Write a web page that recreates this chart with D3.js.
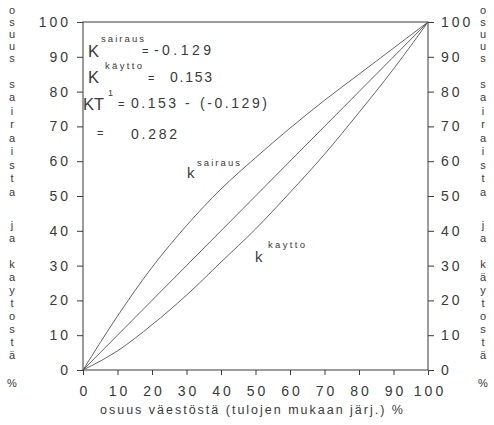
<!DOCTYPE html>
<html><head><meta charset="utf-8">
<script src="https://cdn.jsdelivr.net/npm/d3@7"></script>
<style>
body{margin:0;background:#fff}
svg{display:block}
text{font-family:"Liberation Sans",Arial,sans-serif;fill:#3a3a3a}
</style>
</head><body>
<svg id="c" width="494" height="425"></svg>
<script>
// ---- data ----
const xTicks = [0,10,20,30,40,50,60,70,80,90,100];
const yTicks = [0,10,20,30,40,50,60,70,80,90,100];
const popShare     = [0,10,20,30,40,50,60,70,80,90,100];
const equalShare   = [0,10,20,30,40,50,60,70,80,90,100];
const sairausShare = [0,15.5,29.5,41.5,52,61,69.5,77.5,85,92.5,100];
const kayttoShare  = [0,5.5,13,21.5,31,40.5,51,62,74,86.5,100];
const leftTitle  = ["osuus","sairaista","ja","kaytostä","%"];
const rightTitle = ["osuus","sairaista","ja","käytostä","%"];
const xTitle = "osuus väestöstä (tulojen mukaan järj.) %";
const kSairausSup = "sairaus", kKayttoSup = "käytto", kKayttoLabelSup = "kaytto";
const kSairausVal = "-0.129", kKayttoVal = "0.153";
const ktSup = "1", ktParts = ["0.153","-","(-0.129)"], ktResult = "0.282";

// ---- layout ----
const svg = d3.select("#c");
const x = d3.scaleLinear().domain([0,100]).range([83,428]);
const y = d3.scaleLinear().domain([0,100]).range([370,22]);
const ink = "#3a3a3a";

// frame
svg.append("rect").attr("x",x(0)).attr("y",y(100)).attr("width",x(100)-x(0)).attr("height",y(0)-y(100))
  .attr("fill","none").attr("stroke",ink).attr("stroke-width",1);

function styleAxis(g){
  g.select(".domain").remove();
  g.selectAll("line").attr("stroke",ink);
  g.selectAll("text").style("font-size","14px").style("letter-spacing","3px").attr("fill",ink)
    .style("font-family","'Liberation Sans',Arial,sans-serif");
}
svg.append("g").attr("transform",`translate(${x(0)},0)`)
  .call(d3.axisLeft(y).tickValues(yTicks).tickSize(6).tickPadding(6)).call(styleAxis);
svg.append("g").attr("transform",`translate(${x(100)},0)`)
  .call(d3.axisRight(y).tickValues(yTicks).tickSize(6).tickPadding(7)).call(styleAxis);
const xa = svg.append("g").attr("transform",`translate(0,${y(0)})`)
  .call(d3.axisBottom(x).tickValues(xTicks).tickSize(5).tickPadding(11)).call(styleAxis);
xa.selectAll("text").attr("dx","1.5px");

// curves
const line = d3.line().x(d=>x(d[0])).y(d=>y(d[1])).curve(d3.curveMonotoneX);
[sairausShare, equalShare, kayttoShare].forEach(s=>{
  svg.append("path").attr("d", line(popShare.map((p,i)=>[p,s[i]])))
    .attr("fill","none").attr("stroke","#555").attr("stroke-width",0.9);
});

// x title
svg.append("text").attr("x",100).attr("y",414).attr("textLength",303).attr("lengthAdjust","spacing")
  .style("font-size","12.5px").text(xTitle);

// vertical titles
function vert(words, cx){
  const starts=[10,84,225,264,383], steps=[12,13.5,13,13,13];
  words.forEach((w,wi)=>{
    Array.from(w).forEach((ch,ci)=>{
      svg.append("text").attr("x",cx).attr("y",starts[wi]+ci*steps[wi]).attr("text-anchor","middle")
        .attr("dy","0.35em").style("font-size","11px").attr("fill","#555").text(ch);
    });
  });
}
vert(leftTitle, 12);
vert(rightTitle, 483);

// annotations
function t(txt,px,py,size,len){
  const e = svg.append("text").attr("x",px).attr("y",py).style("font-size",size+"px").text(txt);
  if(len) e.attr("textLength",len).attr("lengthAdjust","spacing");
  return e;
}
t("K",88,57,16.5); t(kSairausSup,101,42,9.5,43); t("=",142,55,11); t(kSairausVal,154,55,14,57);
t("K",88,83,16.5); t(kKayttoSup,105,69,9.5,37); t("=",148,82,11); t(kKayttoVal,170,82,14,42);
t("KT",83,110,16.5); t(ktSup,108,96,9); t("=",118,108,11);
t(ktParts[0],131,108,14,45); t(ktParts[1],185,108,14); t(ktParts[2],200,108,14,67);
t("=",97,137,11); t(ktResult,131,139,14,46);

// curve labels
t("k",187,178,15); t(kSairausSup,197,166,9.5,43);
t("k",255,262,15); t(kKayttoLabelSup,268,248,9.5,37);
</script>
</body></html>
